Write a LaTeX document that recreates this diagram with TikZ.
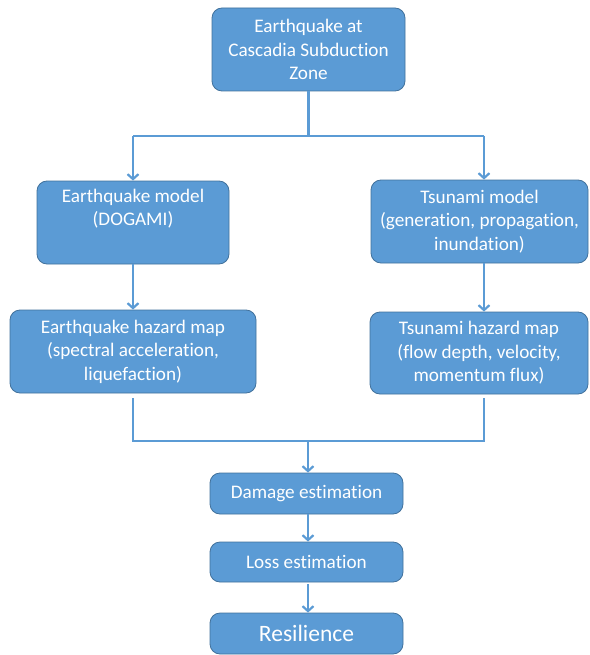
\documentclass[tikz,border=0pt]{standalone}
\usepackage{fontspec}
\setmainfont{Carlito}[RawFeature=-liga]
\usetikzlibrary{arrows.meta,calc}
\definecolor{boxfill}{HTML}{5B9BD5}
\definecolor{boxline}{HTML}{41719C}
\begin{document}
\begin{tikzpicture}[x=1pt,y=-1pt,
  box/.style={draw=boxline, line width=0.8pt, fill=boxfill, rounded corners=10pt,
    text=white, align=center, font=\fontsize{19.2}{23.5}\selectfont, inner sep=0pt},
  conn/.style={draw=boxfill, line width=2.2pt},
  arr/.style={conn, -{Straight Barb[length=5pt,width=11pt,line width=2.2pt]}}]
\useasboundingbox (0,0) rectangle (589,655);
\node[box, minimum width=193pt, minimum height=83pt] (eq) at (308.5,49.5) {Earthquake at\\Cascadia Subduction\\Zone};
\node[box, minimum width=192pt, minimum height=83pt] (eqm) at (133,222.5) {Earthquake model\\(DOGAMI)\\\strut};
\node[box, minimum width=246pt, minimum height=83pt] (eqh) at (133,351.5) {Earthquake hazard map\\(spectral acceleration,\\liquefaction)};
\node[box, minimum width=217pt, minimum height=83pt] (tsm) at (479.5,221.5) {Tsunami model\\(generation, propagation,\\inundation)};
\node[box, minimum width=218pt, minimum height=82pt] (tsh) at (479,353) {Tsunami hazard map\\(flow depth, velocity,\\momentum flux)};
\node[box, minimum width=193pt, minimum height=41pt] (dmg) at (306.5,493.5) {Damage estimation};
\node[box, minimum width=193pt, minimum height=40pt] (loss) at (306.5,562) {Loss estimation};
\node[box, minimum width=193pt, minimum height=41pt, font=\fontsize{23.5}{27}\selectfont] (res) at (306.5,633.5) {Resilience};
\coordinate (split) at (308.5,136);
\coordinate (lc) at (133,136);
\coordinate (rc) at (484,136);
\coordinate (ml) at (133,441);
\coordinate (mr) at (484,441);
\coordinate (mc) at (308,441);
\draw[conn] (eq.south) -- (split);
\draw[conn] (lc) -- (rc);
\draw[arr] (lc) -- (eqm.north);
\draw[arr] (rc) -- (rc |- tsm.north);
\draw[arr] (eqm.south) -- (eqh.north);
\draw[arr] (rc |- tsm.south) -- (rc |- tsh.north);
\draw[conn, shorten <=5pt, shorten >=4pt] (eqh.south) -- (ml) -- (mr) -- (mr |- tsh.south);
\draw[arr] (mc) -- (mc |- dmg.north);
\draw[arr] (mc |- dmg.south) -- (mc |- loss.north);
\draw[arr, shorten <=2pt] (mc |- loss.south) -- (mc |- res.north);
\end{tikzpicture}
\end{document}
